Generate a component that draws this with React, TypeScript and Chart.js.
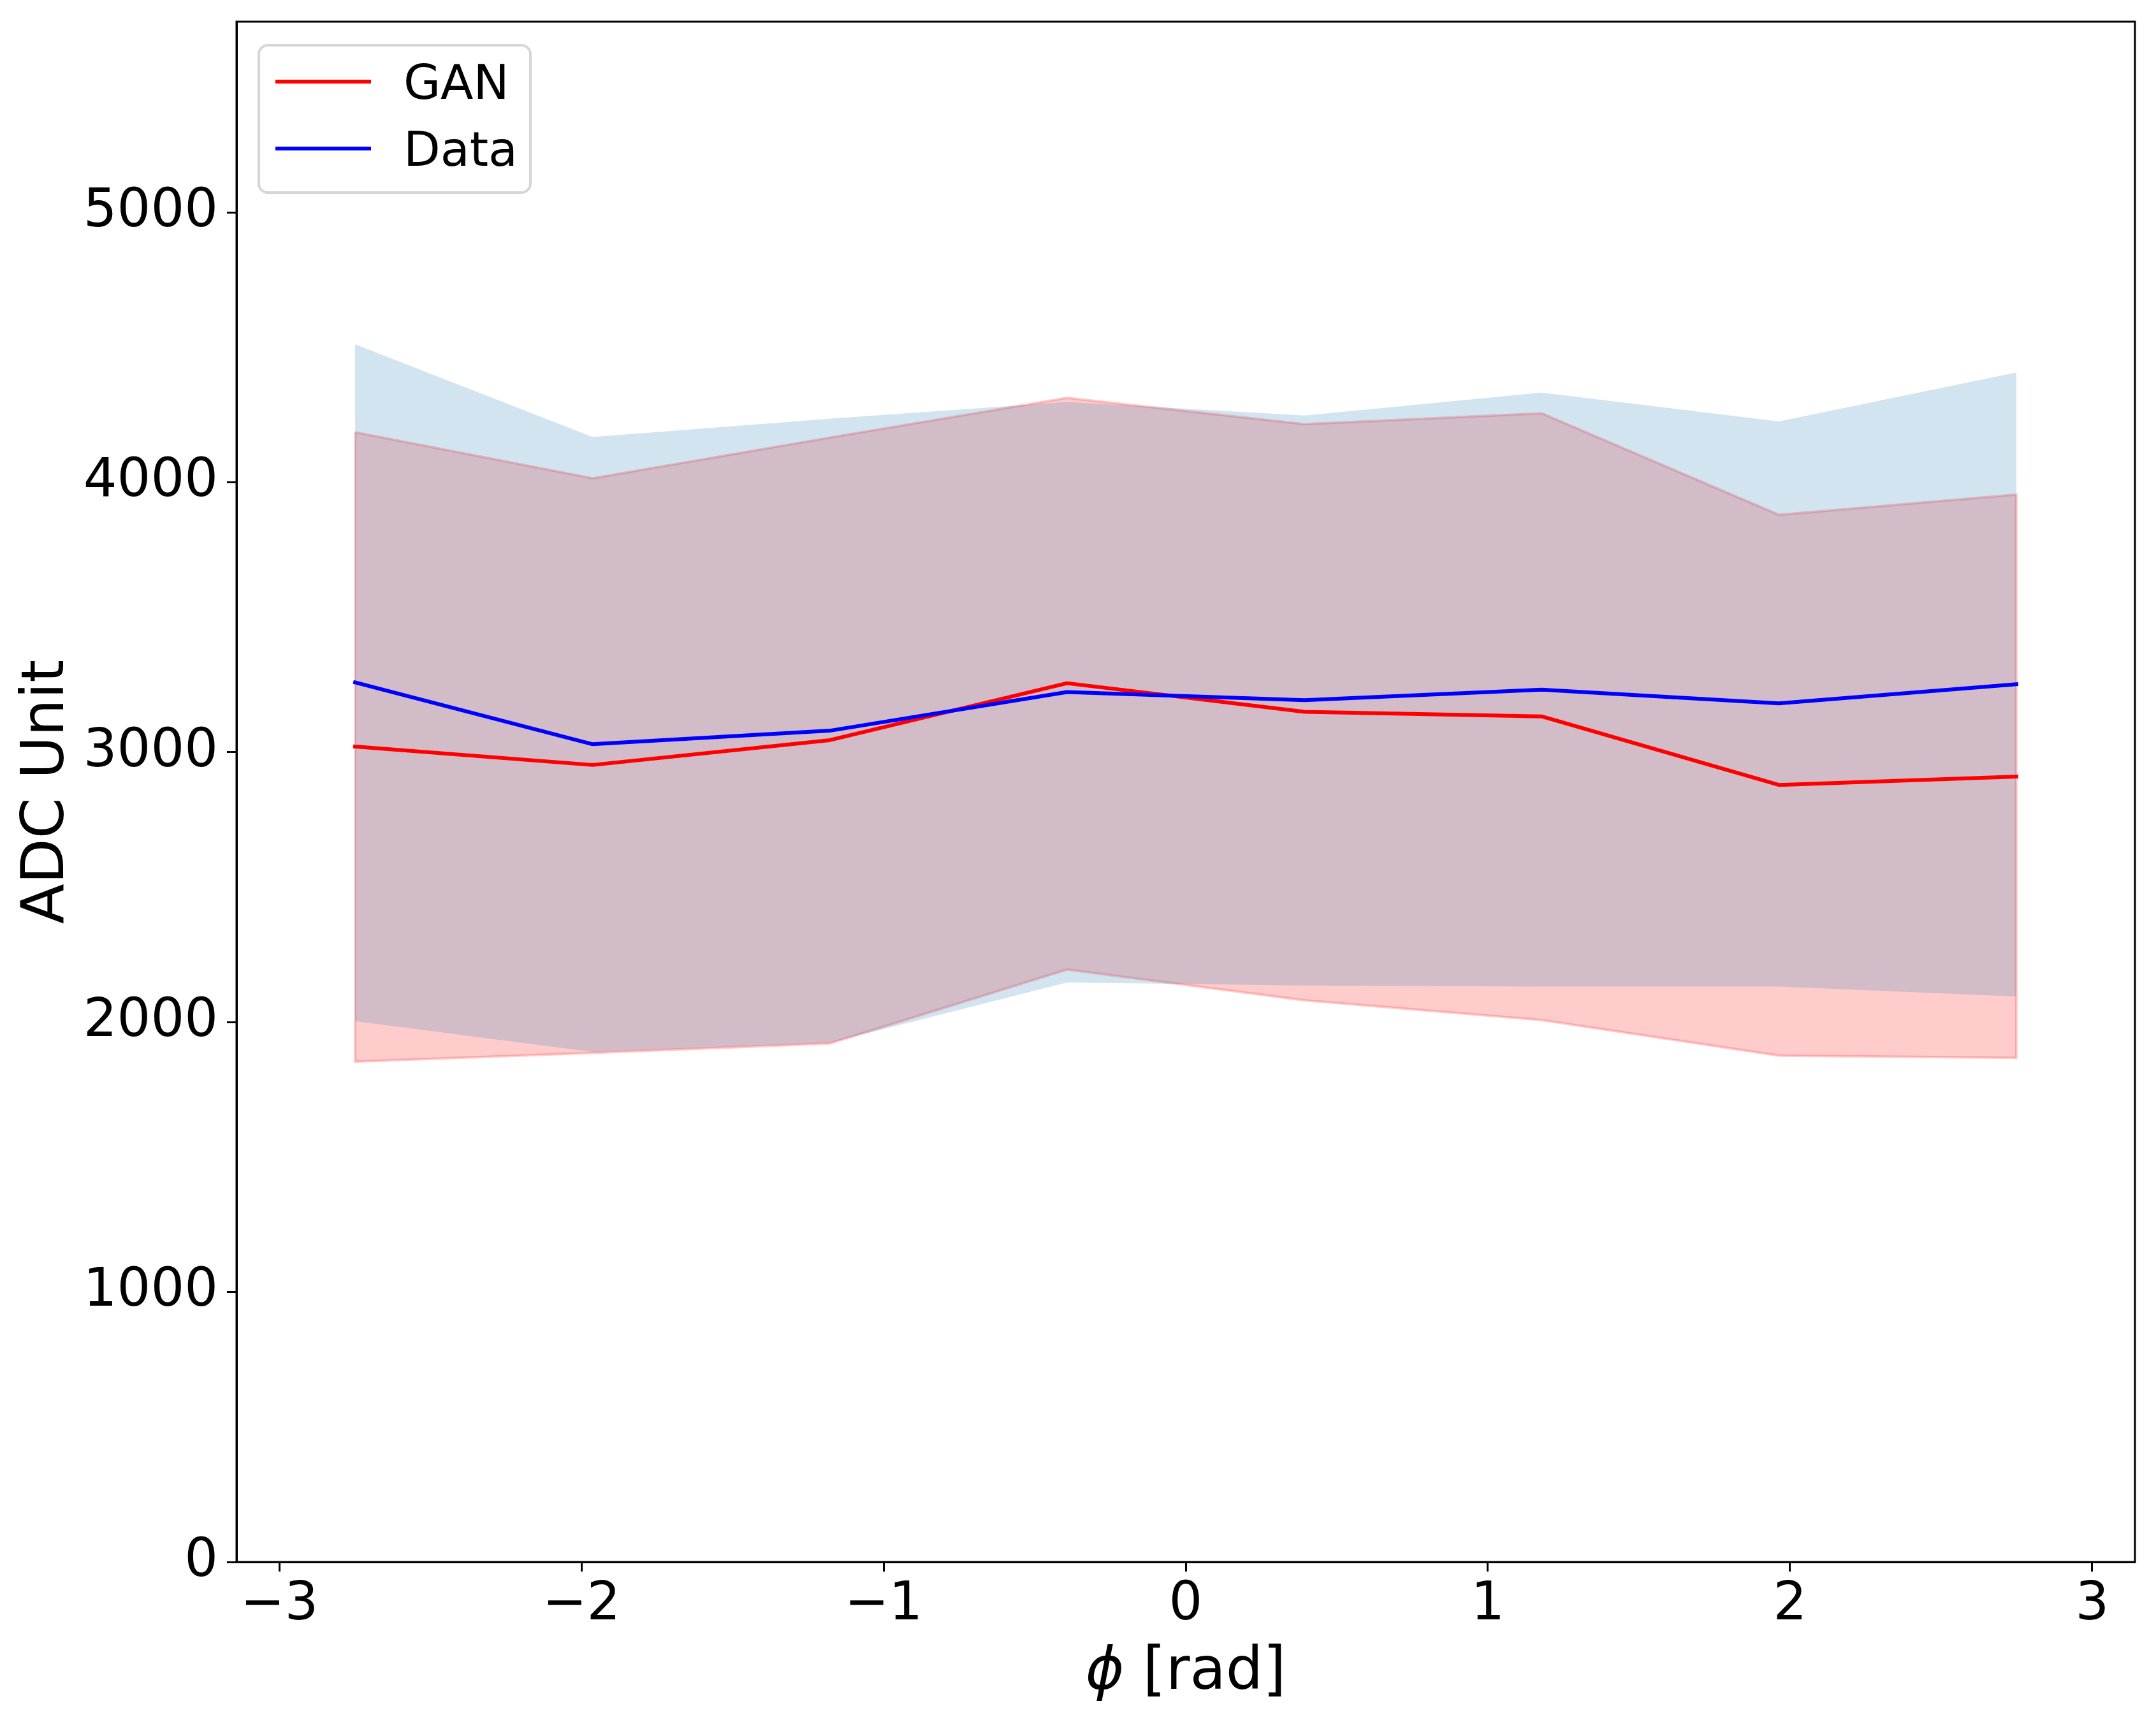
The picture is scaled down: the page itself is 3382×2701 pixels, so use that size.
import React, { useEffect, useRef } from 'react';
import { Chart, registerables } from 'chart.js';

Chart.register(...registerables);

// ---- data ----
const phiCenters = [-2.749, -1.963, -1.178, -0.393, 0.393, 1.178, 1.963, 2.749];
const ganMean = [3021, 2953, 3045, 3256, 3150, 3133, 2879, 2910];
const ganUpper = [4186, 4015, 4166, 4313, 4216, 4256, 3880, 3955];
const ganLower = [1854, 1886, 1921, 2195, 2081, 2008, 1876, 1868];
const dataMean = [3259, 3030, 3080, 3223, 3193, 3232, 3181, 3252];
const dataUpper = [4512, 4168, 4236, 4298, 4248, 4333, 4226, 4407];
const dataLower = [2004, 1890, 1924, 2147, 2136, 2132, 2132, 2095];

const xTickValues = [-3, -2, -1, 0, 1, 2, 3];
const xTickLabels = ['\u22123', '\u22122', '\u22121', '0', '1', '2', '3'];
const yTickValues = [0, 1000, 2000, 3000, 4000, 5000];
const yTickLabels = ['0', '1000', '2000', '3000', '4000', '5000'];
const legendLabels = ['GAN', 'Data'];
const legendColors = ['#ff0000', '#0000ff'];
const xTitleSymbol = '\u03D5';
const xTitleUnit = ' [rad]';
const yTitle = 'ADC Unit';
const Y_MAX = 5707;

// ---- layout ----
const W = 3382;
const H = 2701;
const AREA = { left: 371, top: 34, right: 3349, bottom: 2450 };
const FONT = '"DejaVu Sans", "Liberation Sans", sans-serif';

function bandPoints(upper: number[], lower: number[]) {
  const pts: { x: number; y: number }[] = phiCenters.map((x, i) => ({ x, y: upper[i] }));
  for (let i = phiCenters.length - 1; i >= 0; i--) pts.push({ x: phiCenters[i], y: lower[i] });
  pts.push({ x: phiCenters[0], y: upper[0] });
  return pts;
}

function roundRectPath(ctx: CanvasRenderingContext2D, x: number, y: number, w: number, h: number, r: number) {
  ctx.beginPath();
  ctx.moveTo(x + r, y);
  ctx.lineTo(x + w - r, y);
  ctx.arcTo(x + w, y, x + w, y + r, r);
  ctx.lineTo(x + w, y + h - r);
  ctx.arcTo(x + w, y + h, x + w - r, y + h, r);
  ctx.lineTo(x + r, y + h);
  ctx.arcTo(x, y + h, x, y + h - r, r);
  ctx.lineTo(x, y + r);
  ctx.arcTo(x, y, x + r, y, r);
  ctx.closePath();
}

const decorPlugin = {
  id: 'decor',
  afterDraw(chart: any) {
    const ctx: CanvasRenderingContext2D = chart.ctx;
    const a = chart.chartArea;
    ctx.save();
    // spines
    ctx.strokeStyle = '#000';
    ctx.lineWidth = 3;
    ctx.strokeRect(a.left, a.top, a.right - a.left, a.bottom - a.top);

    // legend
    const bx = a.left + 35;
    const by = a.top + 37;
    const bw = 426;
    const bh = 231;
    roundRectPath(ctx, bx, by, bw, bh, 14);
    ctx.fillStyle = 'rgba(255,255,255,0.8)';
    ctx.fill();
    ctx.strokeStyle = 'rgba(204,204,204,0.8)';
    ctx.lineWidth = 4;
    ctx.stroke();
    ctx.font = `75px ${FONT}`;
    ctx.textAlign = 'left';
    ctx.textBaseline = 'alphabetic';
    legendLabels.forEach((lab, i) => {
      const yLine = by + 57 + i * 105;
      ctx.strokeStyle = legendColors[i];
      ctx.lineWidth = 6;
      ctx.beginPath();
      ctx.moveTo(bx + 26, yLine);
      ctx.lineTo(bx + 176, yLine);
      ctx.stroke();
      ctx.fillStyle = '#000';
      ctx.fillText(lab, bx + 227, yLine + 27);
    });

    // x title
    ctx.fillStyle = '#000';
    ctx.font = `italic 92px ${FONT}`;
    const w1 = ctx.measureText(xTitleSymbol).width;
    ctx.font = `92px ${FONT}`;
    const w2 = ctx.measureText(xTitleUnit).width;
    const cx = (a.left + a.right) / 2;
    const start = cx - (w1 + w2) / 2;
    const base = a.bottom + 199;
    ctx.font = `italic 92px ${FONT}`;
    ctx.fillText(xTitleSymbol, start, base);
    ctx.font = `92px ${FONT}`;
    ctx.fillText(xTitleUnit, start + w1, base);

    // y title
    ctx.save();
    ctx.translate(a.left - 272, (a.top + a.bottom) / 2);
    ctx.rotate(-Math.PI / 2);
    ctx.textAlign = 'center';
    ctx.font = `92px ${FONT}`;
    ctx.fillText(yTitle, 0, 0);
    ctx.restore();

    ctx.restore();
  },
};

export default function App() {
  const canvasRef = useRef<HTMLCanvasElement | null>(null);

  useEffect(() => {
    document.body.style.margin = '0';
    const canvas = canvasRef.current;
    if (!canvas) return;
    const chart = new Chart(canvas, {
      type: 'line',
      data: {
        datasets: [
          {
            label: 'Data',
            data: phiCenters.map((x, i) => ({ x, y: dataMean[i] })),
            borderColor: '#0000ff',
            borderWidth: 6,
            pointRadius: 0,
            fill: false,
            order: 0,
            borderCapStyle: 'square',
            borderJoinStyle: 'round',
          },
          {
            label: 'GAN',
            data: phiCenters.map((x, i) => ({ x, y: ganMean[i] })),
            borderColor: '#ff0000',
            borderWidth: 6,
            pointRadius: 0,
            fill: false,
            order: 1,
            borderCapStyle: 'square',
            borderJoinStyle: 'round',
          },
          {
            label: 'Data band',
            data: bandPoints(dataUpper, dataLower),
            backgroundColor: 'rgba(31,119,180,0.2)',
            borderColor: 'rgba(0,0,0,0)',
            borderWidth: 0.01,
            pointRadius: 0,
            fill: 'shape',
            order: 2,
          },
          {
            label: 'GAN band',
            data: bandPoints(ganUpper, ganLower),
            backgroundColor: 'rgba(255,0,0,0.2)',
            borderColor: 'rgba(255,0,0,0.2)',
            borderWidth: 4,
            pointRadius: 0,
            fill: 'shape',
            order: 3,
          },
        ] as any,
      },
      options: {
        animation: false,
        responsive: false,
        devicePixelRatio: 1,
        events: [],
        layout: { padding: { left: 0, top: AREA.top, right: W - AREA.right, bottom: 0 } },
        plugins: { legend: { display: false }, tooltip: { enabled: false }, title: { display: false } },
        scales: {
          x: {
            type: 'linear',
            min: -Math.PI,
            max: Math.PI,
            afterBuildTicks: (s: any) => {
              s.ticks = xTickValues.map((v) => ({ value: v }));
            },
            afterFit: (s: any) => {
              s.height = H - AREA.bottom;
              s.paddingLeft = 0;
              s.paddingRight = 0;
            },
            ticks: {
              callback: (_v: any, i: number) => xTickLabels[i],
              font: { family: FONT, size: 83 },
              color: '#000',
              padding: 4,
              autoSkip: false,
              maxRotation: 0,
              minRotation: 0,
            },
            grid: { drawOnChartArea: false, drawTicks: true, tickLength: 15, tickWidth: 3, tickColor: '#000' },
            border: { display: true, color: '#000', width: 3 },
          },
          y: {
            type: 'linear',
            min: 0,
            max: Y_MAX,
            afterBuildTicks: (s: any) => {
              s.ticks = yTickValues.map((v) => ({ value: v }));
            },
            afterFit: (s: any) => {
              s.width = AREA.left;
              s.paddingTop = 0;
              s.paddingBottom = 0;
            },
            ticks: {
              callback: (_v: any, i: number) => yTickLabels[i],
              font: { family: FONT, size: 83 },
              color: '#000',
              padding: 14,
              autoSkip: false,
            },
            grid: { drawOnChartArea: false, drawTicks: true, tickLength: 15, tickWidth: 3, tickColor: '#000' },
            border: { display: true, color: '#000', width: 3 },
          },
        },
      } as any,
      plugins: [decorPlugin],
    });
    return () => chart.destroy();
  }, []);

  return (
    <div style={{ position: 'absolute', left: 0, top: 0, width: W, height: H, background: '#fff' }}>
      <canvas ref={canvasRef} width={W} height={H} style={{ width: W, height: H, display: 'block' }} />
    </div>
  );
}
